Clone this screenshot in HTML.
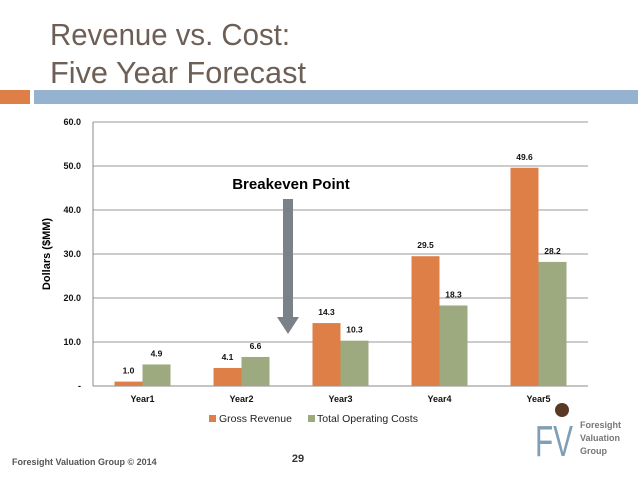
<!DOCTYPE html>
<html><head><meta charset="utf-8"><style>
body{margin:0;background:#fff;width:638px;height:479px;overflow:hidden;font-family:"Liberation Sans",sans-serif}
</style></head><body>
<svg width="638" height="479" viewBox="0 0 638 479">
<text x="50" y="45" font-size="31" fill="#6e5f56" textLength="240" lengthAdjust="spacingAndGlyphs">Revenue vs. Cost:</text>
<text x="50" y="83" font-size="31" fill="#6e5f56" textLength="256" lengthAdjust="spacingAndGlyphs">Five Year Forecast</text>
<rect x="0" y="90" width="30" height="14" fill="#dd7f47"/>
<rect x="34" y="90" width="604" height="14" fill="#95b3d0"/>
<g id="chart"></g>
<text x="50" y="254" font-size="11" font-weight="bold" fill="#000" text-anchor="middle" transform="rotate(-90 50 254)">Dollars ($MM)</text>
<text x="291" y="189" font-size="15" font-weight="bold" fill="#000" text-anchor="middle">Breakeven Point</text>
<g>
<rect x="283" y="199" width="10" height="118" fill="#7b8189"/>
<polygon points="277,317 299,317 288,334" fill="#7b8189"/>
</g>
<g font-size="10.5" fill="#222">
<rect x="209" y="415" width="7" height="7" fill="#dd7f47"/>
<text x="219" y="422">Gross Revenue</text>
<rect x="308" y="415" width="7" height="7" fill="#9daa80"/>
<text x="317" y="422">Total Operating Costs</text>
</g>
<text x="298" y="462" font-size="11" font-weight="bold" fill="#333" text-anchor="middle">29</text>
<text x="12" y="465" font-size="9" font-weight="bold" fill="#555">Foresight Valuation Group © 2014</text>
<g>
<circle cx="562" cy="410" r="7" fill="#5a3826"/>
<text x="535" y="456" font-size="44" fill="#7f9fb6" textLength="38" lengthAdjust="spacingAndGlyphs">FV</text>
<text x="580" y="428" font-size="9" font-weight="bold" fill="#777">Foresight</text>
<text x="580" y="441" font-size="9" font-weight="bold" fill="#777">Valuation</text>
<text x="580" y="454" font-size="9" font-weight="bold" fill="#777">Group</text>
</g>
</svg>
<script>
const categories = ["Year1","Year2","Year3","Year4","Year5"];
const revenue = [1.0, 4.1, 14.3, 29.5, 49.6];
const costs = [4.9, 6.6, 10.3, 18.3, 28.2];
const yTicks = [0,10,20,30,40,50,60];
const yTickLabels = ["-","10.0","20.0","30.0","40.0","50.0","60.0"];
const NS="http://www.w3.org/2000/svg";
const g=document.getElementById('chart');
const L=93,R=588,T=122,B=386,yMax=60;
function y(v){return B-(v/yMax)*(B-T);}
const cw=(R-L)/categories.length;
function cx(i){return L+cw*(i+0.5);}
function mk(tag,a){const e=document.createElementNS(NS,tag);for(const k in a)e.setAttribute(k,a[k]);g.appendChild(e);return e;}
yTicks.forEach((t,i)=>{
 const ln=mk('line',{x1:L,x2:R,y1:y(t),y2:y(t),stroke:i==0?'#888':'#999','stroke-width':1});
 
 
 const tx=mk('text',{x:L-12,y:y(t)+3,'font-size':9,'font-weight':'bold','text-anchor':'end',fill:'#111'});
 tx.textContent=yTickLabels[i];
 
 
});
const ax=mk('line',{x1:L,x2:L,y1:T,y2:B,stroke:'#888'});


const bw=28;
categories.forEach((c,i)=>{
 const x0=cx(i);
 const r=mk('rect',{x:x0-bw,y:y(revenue[i]),width:bw,height:B-y(revenue[i]),fill:'#dd7f47'});
 
 
 const k=mk('rect',{x:x0,y:y(costs[i]),width:bw,height:B-y(costs[i]),fill:'#9daa80'});
 
 
 const lr=mk('text',{x:x0-bw/2,y:y(revenue[i])-8,'font-size':8.5,'font-weight':'bold','text-anchor':'middle',fill:'#111'});
 lr.textContent=revenue[i].toFixed(1);
 
 
 const lc=mk('text',{x:x0+bw/2,y:y(costs[i])-8,'font-size':8.5,'font-weight':'bold','text-anchor':'middle',fill:'#111'});
 lc.textContent=costs[i].toFixed(1);
 
 
 const xl=mk('text',{x:x0,y:B+16,'font-size':9,'font-weight':'bold','text-anchor':'middle',fill:'#111'});
 xl.textContent=c;
 
 
});
</script>
</body></html>
